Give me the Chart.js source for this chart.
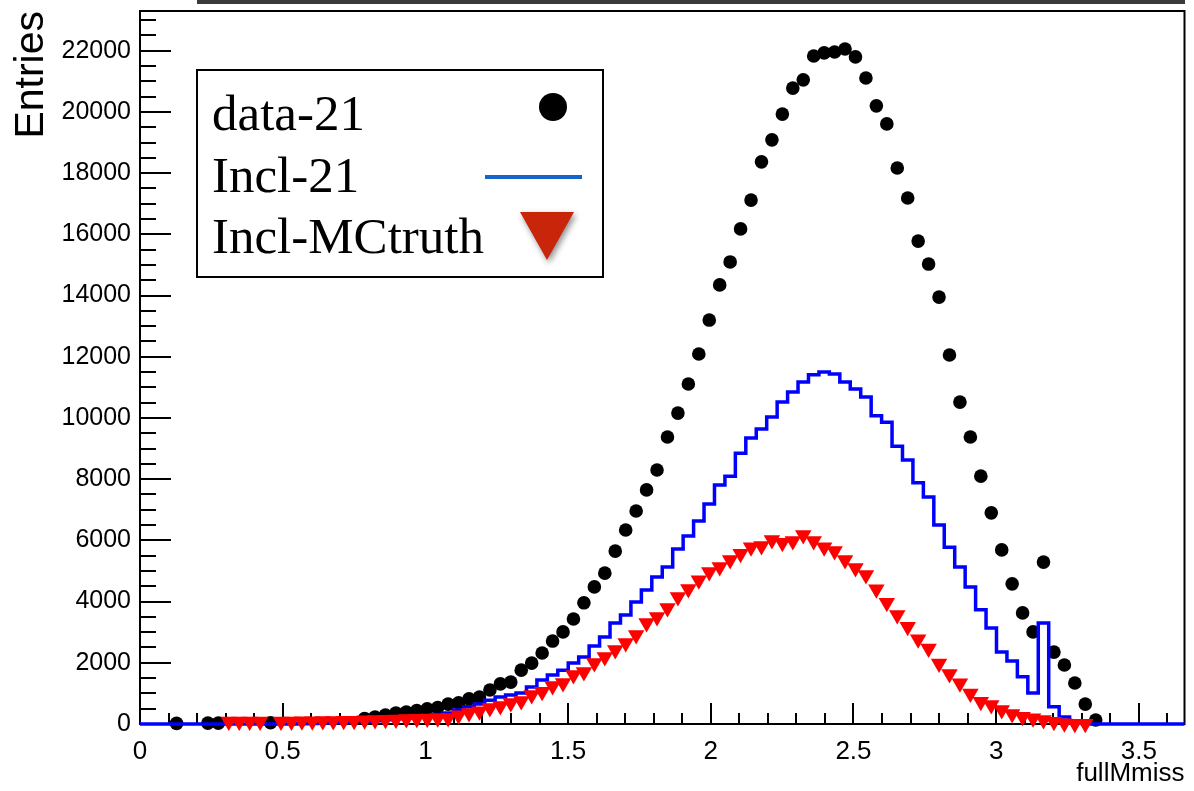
<!DOCTYPE html>
<html lang="en">
<head>
  <meta charset="UTF-8">
  <title>fullMmiss</title>
  <script src="https://cdn.jsdelivr.net/npm/chart.js"></script>
  <style>
    body { margin: 0; padding: 0; background: #ffffff; }
    #wrap { width: 1194px; height: 791px; }
  </style>
</head>
<body>
  <div id="wrap"><canvas id="hist" width="1194" height="791"></canvas></div>

  <script>
    // Binning of the histograms: 100 bins between 0 and 3.66
    const xMin = 0;
    const xMax = 3.66;
    const nBins = 100;
    const yMax = 23300;

    // tick labels
    const xTickLabels = [0, 0.5, 1, 1.5, 2, 2.5, 3, 3.5];
    const yTickLabels = [0, 2000, 4000, 6000, 8000, 10000, 12000, 14000, 16000, 18000, 20000, 22000];

    // data-21 (black dots), null = empty bin (no marker)
    const data21 = [
      null, null, null, 20, null, null, 30, 30, null, null,
      null, null, 40, null, null, null, null, null, null, null,
      null, 180, 230, 290, 360, 390, 440, 500, 540, 650,
      690, 820, 880, 1110, 1310, 1370, 1760, 1990, 2320, 2710,
      3010, 3430, 3960, 4480, 4930, 5650, 6340, 6960, 7650, 8300,
      9380, 10160, 11110, 12090, 13200, 14350, 15100, 16180, 17120, 18370,
      19090, 19930, 20780, 21050, 21830, 21930, 21960, 22060, 21800, 21110,
      20200, 19610, 18170, 17190, 15780, 15030, 13950, 12060, 10520, 9380,
      8100, 6900, 5690, 4580, 3630, 3010, 5290, 2350, 1930, 1340,
      650, 130, null, null, null, null, null, null, null, null
    ];

    // Incl-21 (blue histogram line)
    const incl21 = [
      0, 0, 0, 0, 0, 0, 0, 0, 0, 0,
      0, 0, 0, 0, 0, 10, 20, 30, 40, 50,
      70, 90, 110, 140, 170, 200, 230, 270, 310, 360,
      460, 560, 650, 780, 880, 950, 1010, 1210, 1440, 1600,
      1760, 1990, 2190, 2550, 2840, 3300, 3560, 3990, 4380, 4800,
      5130, 5720, 6140, 6630, 7190, 7810, 8100, 8850, 9350, 9640,
      10030, 10520, 10850, 11180, 11410, 11500, 11440, 11180, 10950, 10690,
      10070, 9860, 9080, 8630, 7880, 7420, 6500, 5780, 5130, 4480,
      3730, 3140, 2350, 2060, 1540, 1010, 3300, 560, 230, 70,
      30, 0, 0, 0, 0, 0, 0, 0, 0, 0
    ];

    // Incl-MCtruth (red triangles)
    const mcTruth = [
      null, null, null, null, null, null, null, null, 80, 80,
      80, 80, null, 80, 80, 90, 90, 100, 100, 110,
      110, 120, 130, 140, 150, 160, 170, 180, 190, 200,
      290, 360, 420, 520, 590, 690, 750, 950, 1050, 1240,
      1340, 1600, 1700, 1990, 2190, 2420, 2650, 2910, 3300, 3500,
      3790, 4150, 4410, 4700, 4970, 5130, 5360, 5560, 5780, 5820,
      6010, 5920, 5980, 6180, 5980, 5780, 5650, 5360, 5100, 4870,
      4400, 3960, 3560, 3180, 2770, 2470, 1980, 1630, 1330, 1000,
      730, 620, 460, 330, 240, 190, 130, 75, 25, 10,
      5, null, null, null, null, null, null, null, null, null
    ];

    const legendLabels = ['data-21', 'Incl-21', 'Incl-MCtruth'];

    // bin centers
    const binWidth = (xMax - xMin) / nBins;
    const binCenters = data21.map((_, i) => xMin + (i + 0.5) * binWidth);

    const toPoints = vals => vals.map((v, i) => ({ x: binCenters[i], y: v }));
    // the step line runs over the full axis range, so add the two outer edges
    const stepPoints = vals => [{ x: xMin, y: vals[0] }]
      .concat(toPoints(vals))
      .concat([{ x: xMax, y: vals[vals.length - 1] }]);

    // Frame, inward ticks and the boxed legend (ROOT look)
    const rootFrame = {
      id: 'rootFrame',
      beforeDatasetsDraw(chart) {
        const { ctx, chartArea: a, scales: { x, y } } = chart;
        ctx.save();
        ctx.strokeStyle = '#000000';
        ctx.lineWidth = 2;
        ctx.strokeRect(a.left, a.top, a.right - a.left, a.bottom - a.top);

        // x ticks: minor every 0.1, major every 0.5
        for (let k = 0; k * 0.1 <= xMax + 1e-9; k++) {
          const px = Math.round(x.getPixelForValue(k * 0.1));
          const len = k % 5 === 0 ? 21 : 11;
          ctx.beginPath();
          ctx.moveTo(px, a.bottom);
          ctx.lineTo(px, a.bottom - len);
          ctx.stroke();
        }
        // y ticks: minor every 500, major every 2000
        for (let v = 0; v <= yMax; v += 500) {
          const py = Math.round(y.getPixelForValue(v));
          const len = v % 2000 === 0 ? 31 : 16;
          ctx.beginPath();
          ctx.moveTo(a.left, py);
          ctx.lineTo(a.left + len, py);
          ctx.stroke();
        }
        ctx.restore();
      },
      afterDatasetsDraw(chart) {
        const { ctx } = chart;
        ctx.save();

        // cut-off title box at the very top
        ctx.fillStyle = '#3a3a3a';
        ctx.fillRect(197, 0, 988, 4);

        // legend box
        ctx.fillStyle = '#ffffff';
        ctx.fillRect(197, 70, 406, 207);
        ctx.strokeStyle = '#000000';
        ctx.lineWidth = 2;
        ctx.strokeRect(197, 70, 406, 207);

        ctx.fillStyle = '#000000';
        ctx.font = '51px "Liberation Serif", "Times New Roman", serif';
        ctx.textBaseline = 'alphabetic';
        ctx.textAlign = 'left';
        ctx.fillText(legendLabels[0], 212, 130);
        ctx.fillText(legendLabels[1], 212, 192);
        ctx.fillText(legendLabels[2], 212, 253);

        // dot
        ctx.beginPath();
        ctx.arc(553, 107, 14, 0, Math.PI * 2);
        ctx.fill();

        // line
        ctx.strokeStyle = '#1565c8';
        ctx.lineWidth = 4;
        ctx.beginPath();
        ctx.moveTo(485, 177);
        ctx.lineTo(582, 177);
        ctx.stroke();

        // triangle with a soft shadow
        ctx.shadowColor = 'rgba(0,0,0,0.45)';
        ctx.shadowBlur = 6;
        ctx.shadowOffsetX = 2;
        ctx.shadowOffsetY = 3;
        ctx.fillStyle = '#c8250a';
        ctx.beginPath();
        ctx.moveTo(520, 212);
        ctx.lineTo(574, 212);
        ctx.lineTo(547, 260);
        ctx.closePath();
        ctx.fill();

        ctx.restore();
      }
    };

    const config = {
      type: 'line',
      data: {
        datasets: [
          {
            label: 'Incl-MCtruth',
            data: toPoints(mcTruth),
            showLine: false,
            pointStyle: 'triangle',
            pointRotation: 180,
            pointRadius: 9.5,
            pointBackgroundColor: '#ff0000',
            pointBorderWidth: 0,
            clip: false,
            order: 1
          },
          {
            label: 'Incl-21',
            data: stepPoints(incl21),
            stepped: 'middle',
            borderColor: '#0000ff',
            borderWidth: 3.5,
            pointRadius: 0,
            fill: false,
            clip: false,
            order: 2
          },
          {
            label: 'data-21',
            data: toPoints(data21),
            showLine: false,
            pointStyle: 'circle',
            pointRadius: 6.8,
            pointBackgroundColor: '#000000',
            pointBorderWidth: 0,
            clip: false,
            order: 3
          }
        ]
      },
      options: {
        responsive: false,
        animation: false,
        events: [],
        layout: { padding: { top: 11, right: 4, left: 0, bottom: 0 } },
        plugins: {
          legend: { display: false },
          tooltip: { enabled: false }
        },
        scales: {
          x: {
            type: 'linear',
            min: xMin,
            max: xMax,
            grid: { display: false },
            border: { display: false },
            afterBuildTicks(scale) {
              scale.ticks = xTickLabels.map(v => ({ value: v }));
            },
            ticks: {
              autoSkip: false,
              maxRotation: 0,
              color: '#000000',
              padding: 4,
              callback: v => String(v),
              font: { family: '"Liberation Sans", Arial, sans-serif', size: 26 }
            },
            title: {
              display: true,
              text: 'fullMmiss',
              align: 'end',
              color: '#000000',
              padding: { top: 0, bottom: 2 },
              font: { family: '"Liberation Sans", Arial, sans-serif', size: 26 }
            },
            afterFit(scale) {
              scale.height = 67;
              scale.paddingLeft = 0;
              scale.paddingRight = 0;
            }
          },
          y: {
            min: 0,
            max: yMax,
            grid: { display: false },
            border: { display: false },
            afterBuildTicks(scale) {
              scale.ticks = yTickLabels.map(v => ({ value: v }));
            },
            ticks: {
              autoSkip: false,
              color: '#000000',
              padding: 1,
              callback: v => String(v),
              font: { family: '"Liberation Sans", Arial, sans-serif', size: 25 }
            },
            title: {
              display: true,
              text: 'Entries',
              align: 'end',
              color: '#000000',
              padding: { top: 7, bottom: 0 },
              font: { family: '"Liberation Sans", Arial, sans-serif', size: 41 }
            },
            afterFit(scale) {
              scale.width = 140;
              scale.paddingTop = 0;
              scale.paddingBottom = 0;
            }
          }
        }
      },
      plugins: [rootFrame]
    };

    new Chart(document.getElementById('hist').getContext('2d'), config);
  </script>
</body>
</html>
